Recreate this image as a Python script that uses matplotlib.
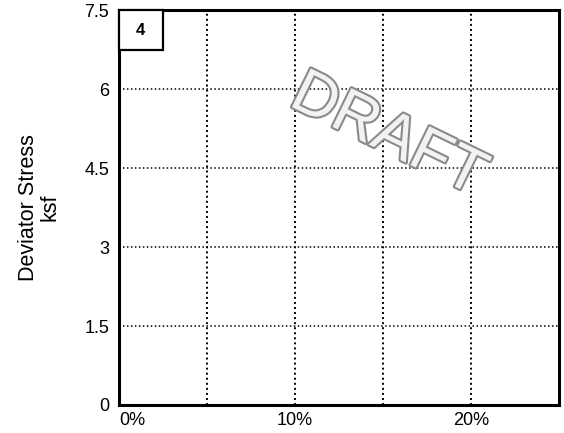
import matplotlib
matplotlib.use("Agg")
import matplotlib.pyplot as plt
from matplotlib.patches import Rectangle
import matplotlib.patheffects as pe

plt.rcParams['font.family'] = ['Liberation Sans', 'DejaVu Sans']

# Axis setup values
strain_ticks = [0.0, 0.10, 0.20]
strain_tick_labels = ["0%", "10%", "20%"]
strain_grid = [0.05, 0.10, 0.15, 0.20]
strain_limits = [0.0, 0.25]

stress_ticks = [0, 1.5, 3, 4.5, 6, 7.5]
stress_tick_labels = ["0", "1.5", "3", "4.5", "6", "7.5"]
stress_grid = [1.5, 3, 4.5, 6]
stress_limits = [0, 7.5]

panel_number = "4"
y_label = "Deviator Stress\nksf"
watermark = "DRAFT"

fig = plt.figure(figsize=(5.64, 4.33), dpi=100)
ax = fig.add_axes([0.211, 0.0647, 0.780, 0.912])

ax.set_xlim(*strain_limits)
ax.set_ylim(*stress_limits)

for x in strain_grid:
    ax.axvline(x, color="black", linestyle=(0, (1, 1.6)), linewidth=1.4, zorder=1)
for y in stress_grid:
    ax.axhline(y, color="black", linestyle=(0, (1, 1.6)), linewidth=1.1, zorder=1)

ax.set_xticks(strain_ticks)
ax.set_xticklabels(strain_tick_labels, fontsize=13)
ax.set_yticks(stress_ticks)
ax.set_yticklabels(stress_tick_labels, fontsize=13)
ax.tick_params(axis="x", length=0, pad=5)
ax.tick_params(axis="y", length=0, pad=7)
ax.get_xticklabels()[0].set_horizontalalignment("left")

for s in ax.spines.values():
    s.set_linewidth(2.2)
    s.set_color("black")

ax.set_ylabel(y_label, fontsize=15.5, labelpad=17, linespacing=1.05)

# Panel number box in the top-left corner
ax.add_patch(Rectangle((0.0, 0.899), 0.10, 0.101, transform=ax.transAxes,
                       facecolor="white", edgecolor="black", linewidth=1.6,
                       zorder=3, clip_on=False))
ax.text(0.048, 0.948, panel_number, transform=ax.transAxes, ha="center",
        va="center", fontsize=12, fontweight="bold", zorder=4)

# Watermark
ax.text(0.612, 0.682, watermark, transform=ax.transAxes, ha="center",
        va="center", fontsize=45, rotation=-26, color="#f2f2f2", zorder=2,
        path_effects=[pe.withStroke(linewidth=3, foreground="#8a8a8a")])

fig.savefig("out.png", dpi=100, facecolor="white")
